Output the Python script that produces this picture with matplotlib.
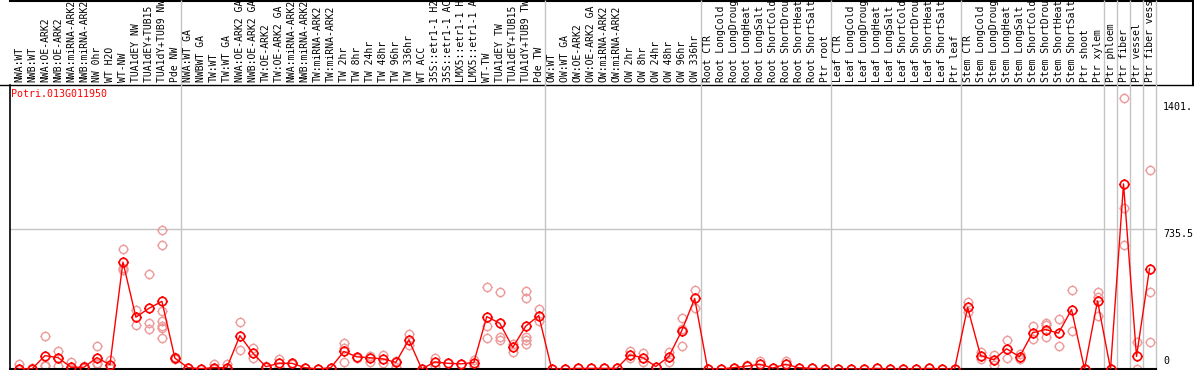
import numpy as np
import matplotlib
matplotlib.use("Agg")
import matplotlib.pyplot as plt
from matplotlib.path import Path

# sample groups (column labels)
g1 = ["NWA:WT", "NWB:WT", "NWA:OE-ARK2", "NWB:OE-ARK2", "NWA:miRNA-ARK2", "NWB:miRNA-ARK2",
      "NW 0hr", "WT H2O", "WT-NW", "TUA1dEY NW", "TUA1dEY+TUB15 NW", "TUA1dY+TUB9 NW", "Pde NW"]
g2 = ["NWA:WT GA", "NWBWT GA", "TW:WT", "TW:WT GA", "NWA:OE-ARK2 GA", "NWB:OE-ARK2 GA",
      "TW:OE-ARK2", "TW:OE-ARK2 GA", "NWA:miRNA-ARK2", "NWB:miRNA-ARK2", "TW:miRNA-ARK2",
      "TW:miRNA-ARK2", "TW 2hr", "TW 8hr", "TW 24hr", "TW 48hr", "TW 96hr", "TW 336hr",
      "WT ACC", "35S::etr1-1 H2O", "35S::etr1-1 ACC", "LMX5::etr1-1 H2O", "LMX5::etr1-1 ACC",
      "WT-TW", "TUA1dEY TW", "TUA1dEY+TUB15 TW", "TUA1dY+TUB9 TW", "Pde TW"]
g3 = ["OW:WT", "OW:WT GA", "OW:OE-ARK2", "OW:OE-ARK2 GA", "OW:miRNA-ARK2", "OW:miRNA-ARK2",
      "OW 2hr", "OW 8hr", "OW 24hr", "OW 48hr", "OW 96hr", "OW 336hr"]
stress = ["CTR", "LongCold", "LongDrought", "LongHeat", "LongSalt",
          "ShortCold", "ShortDrought", "ShortHeat", "ShortSalt"]
g4 = ["Root " + s for s in stress] + ["Ptr root"]
g5 = ["Leaf " + s for s in stress] + ["Ptr leaf"]
g6 = ["Stem " + s for s in stress] + ["Ptr shoot", "Ptr xylem"]
g7 = ["Ptr phloem"]
g8 = ["Ptr fiber"]
g9 = ["Ptr vessel"]
g10 = ["Ptr fiber vessel"]
groups = [g1, g2, g3, g4, g5, g6, g7, g8, g9, g10]
labels = [l for g in groups for l in g]

# mean expression per column
means = [2, 0, 70, 60, 9, 9, 60, 22, 561, 272, 318, 355, 57,
         7, 2, 7, 7, 175, 83, 12, 30, 30, 7, 0, 7, 92, 64, 59, 53, 35, 153, 0, 37, 30, 27, 34,
         275, 240, 113, 225, 280,
         0, 0, 3, 3, 3, 3, 73, 60, 13, 64, 200, 370,
         0, 0, 7, 15, 25, 5, 25, 7, 3, 0,
         0, 0, 0, 3, 0, 0, 0, 3, 0, 0,
         323, 70, 49, 106, 64, 190, 207, 188, 312, 0, 357,
         0, 971, 66, 527]

# replicate values per column
reps = [[25, 0], [3, 0], [175, 15, 20], [97, 18, 60], [36, 0], [14, 5], [122, 34, 28], [45, 5],
        [630, 529, 520], [309, 230], [500, 240, 210], [727, 653, 302, 254, 225, 214, 164], [63, 50],
        [3], [0], [25, 0], [25, 0], [245, 100], [110, 59], [15], [52, 13], [25], [3], [0], [5],
        [138, 110, 37], [60], [37, 70], [73, 30], [40, 13], [183, 127], [0], [57, 18], [30], [27],
        [45, 18], [428, 225, 164], [402, 166, 153], [130, 89], [410, 375, 166, 150, 130], [316, 250],
        [0], [0], [3], [3], [3], [3], [92, 60], [86, 35], [10], [87, 37], [267, 122, 210], [416, 320],
        [0], [0], [7], [20], [43], [5], [40], [7], [3], [0],
        [0], [0], [0], [3], [0], [0], [0], [3], [0], [0],
        [351, 298], [89, 54], [75, 20], [153, 59], [78, 52], [227, 156], [240, 233, 166],
        [264, 122], [416, 199], [0], [404, 378, 279],
        [0], [1420, 843, 651], [140, 0], [1044, 404, 140]]

title = "Potri.013G011950"
y_max = 1490
grid_val = 735.5

# circle marker with small ticks
circ = Path.unit_circle()
t = 1.22
ticks = Path([(0, 1), (0, t), (0, -1), (0, -t), (1, 0), (t, 0), (-1, 0), (-t, 0)],
             [Path.MOVETO, Path.LINETO] * 4)
mk = Path.make_compound_path(circ, ticks)

W, H = 1194, 370
fig = plt.figure(figsize=(W / 100, H / 100), dpi=100)
fig.patch.set_facecolor("white")

# frame lines in pixel space
ov = fig.add_axes([0, 0, 1, 1])
ov.set_xlim(0, W)
ov.set_ylim(H, 0)
ov.axis("off")
ov.plot([0, W], [85, 85], color="black", lw=1)
ov.plot([10, W], [0.5, 0.5], color="black", lw=1.5)
ov.plot([W - 1, W - 1], [0, 85], color="black", lw=1.5)

left, right, top, bot = 10, 1156, 85, 369
ax = fig.add_axes([left / W, (H - bot) / H, (right - left) / W, (bot - top) / H])
ax.set_facecolor("none")
n = len(labels)
x = np.arange(n)
ax.set_xlim(-0.69, n - 0.5)
ax.set_ylim(0, y_max)
for s in ["top", "right"]:
    ax.spines[s].set_visible(False)
ax.spines["left"].set_linewidth(1.2)
ax.spines["bottom"].set_linewidth(1.5)
ax.set_xticks([])
ax.set_yticks([])

ax.axhline(grid_val, color="#c4c4c4", lw=1, zorder=1)

trans = ax.get_xaxis_transform()
bounds = np.cumsum([len(g) for g in groups]) - 0.5
ax.vlines(bounds, 0, 1 + top / (bot - top), transform=trans, color="#c4c4c4",
          lw=1, clip_on=False, zorder=1)

for i, r in enumerate(reps):
    ax.plot([i] * len(r), r, linestyle="none", marker=mk, markersize=7.2,
            markerfacecolor="none", markeredgecolor="#ec9a9a", markeredgewidth=1.0, zorder=2)

ax.plot(x, means, color="red", lw=1.0, marker=mk, markersize=7.4,
        markerfacecolor="none", markeredgecolor="red", markeredgewidth=1.2, zorder=3)

for i, l in enumerate(labels):
    ax.text(i, 1 + 2.5 / (bot - top), l, rotation=90, ha="center", va="bottom",
            transform=trans, family="DejaVu Sans Mono", fontsize=7, clip_on=False)

ax.text(0.5 / (right - left), 1 - 4 / (bot - top), title, color="red", ha="left", va="top",
        transform=ax.transAxes, family="DejaVu Sans Mono", fontsize=7.2)

ytrans = ax.get_yaxis_transform()
xr = 1 + 7 / (right - left)
ax.text(xr, 1401, "1401.", ha="left", va="top", transform=ytrans,
        family="DejaVu Sans Mono", fontsize=7.2, clip_on=False)
ax.text(xr, grid_val, "735.5", ha="left", va="top", transform=ytrans,
        family="DejaVu Sans Mono", fontsize=7.2, clip_on=False)
ax.text(xr, 15, "0", ha="left", va="bottom", transform=ytrans,
        family="DejaVu Sans Mono", fontsize=7.2, clip_on=False)

fig.savefig("out.png", dpi=100)
